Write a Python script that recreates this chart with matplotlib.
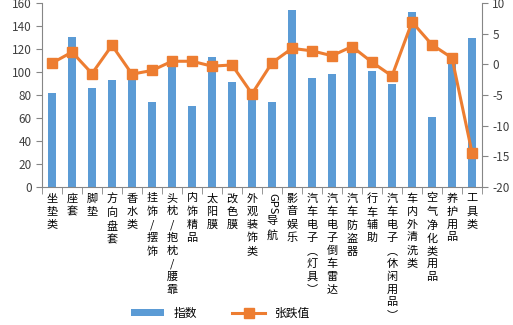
import matplotlib.pyplot as plt
import numpy as np

plt.rcParams['font.family'] = ['Noto Sans CJK SC', 'DejaVu Sans']
plt.rcParams['axes.unicode_minus'] = False

cats = ['坐垫类', '座套', '脚垫', '方向盘套', '香水类', '挂饰/摆饰', '头枕/抱枕/腰靠',
        '内饰精品', '太阳膜', '改色膜', '外观装饰类', 'GPS导航', '影音娱乐',
        '汽车电子（灯具）', '汽车电子倒车雷达', '汽车防盗器', '行车辅助',
        '汽车电子（休闲用品）', '车内外清洗类', '空气净化类用品', '养护用品', '工具类']
zhishu = [82, 130, 86, 93, 97, 74, 106, 70.5, 113, 91.5, 79, 74, 153.5,
          94.5, 98, 121, 101, 89.5, 152.5, 61, 112, 129.5]
zhangdie = [0.2, 2.0, -1.5, 3.1, -1.6, -1.0, 0.5, 0.5, -0.3, -0.1, -4.8, 0.25,
            2.6, 2.2, 1.4, 2.9, 0.35, -1.9, 6.9, 3.2, 1.05, -14.4]

blue = '#5B9BD5'
orange = '#ED7D31'
grey = '#868686'

fig = plt.figure(figsize=(5.13, 3.25), dpi=100)
ax = fig.add_axes([42/513, 1-187/325, 440/513, 184/325])
x = np.arange(len(cats))
ax.bar(x, zhishu, width=0.4, color=blue, label='指数', zorder=2)
ax.set_ylim(0, 160)
ax.set_yticks(range(0, 161, 20))
ax.set_xlim(-0.5, len(cats) - 0.5)

ax2 = ax.twinx()
ax2.plot(x, zhangdie, color=orange, lw=2.2, marker='s', ms=7, label='张跌值', zorder=3)
ax2.set_ylim(-20, 10)
ax2.set_yticks(range(-20, 11, 5))

for a in (ax, ax2):
    a.spines['top'].set_visible(False)
    for s in ('left', 'right', 'bottom'):
        a.spines[s].set_color(grey)
    a.tick_params(axis='y', colors=grey, labelcolor='#404040', labelsize=8.5, length=4)
ax.spines['right'].set_visible(False)
ax2.spines['left'].set_visible(False)
ax2.spines['bottom'].set_visible(False)

# category boundary ticks
ax.set_xticks(x)
ax.set_xticklabels([])
ax.tick_params(axis='x', which='major', length=0)
ax.set_xticks(np.arange(-0.5, len(cats), 1), minor=True)
ax.tick_params(axis='x', which='minor', length=5, color=grey)

vert = {'（': '︵', '）': '︶'}
tr = ax.get_xaxis_transform()
for i, c in enumerate(cats):
    if c.startswith('GPS'):
        ax.text(i, -0.035, 'GPS', rotation=-90, ha='center', va='top',
                fontsize=8, transform=tr, color='black')
        ax.text(i, -0.16, '\n'.join(c[3:]), ha='center', va='top',
                fontsize=8, linespacing=1.35, transform=tr, color='black')
    else:
        s = '\n'.join(vert.get(ch, ch) for ch in c)
        ax.text(i, -0.035, s, ha='center', va='top', fontsize=8,
                linespacing=1.35, transform=tr, color='black')

h1, l1 = ax.get_legend_handles_labels()
h2, l2 = ax2.get_legend_handles_labels()
fig.legend(h1 + h2, l1 + l2, loc='center', bbox_to_anchor=(0.43, 1-313/325),
           ncol=2, frameon=False, fontsize=8.5, handlelength=2.8,
           columnspacing=3, handleheight=0.6)

fig.savefig('out.png', dpi=100)
